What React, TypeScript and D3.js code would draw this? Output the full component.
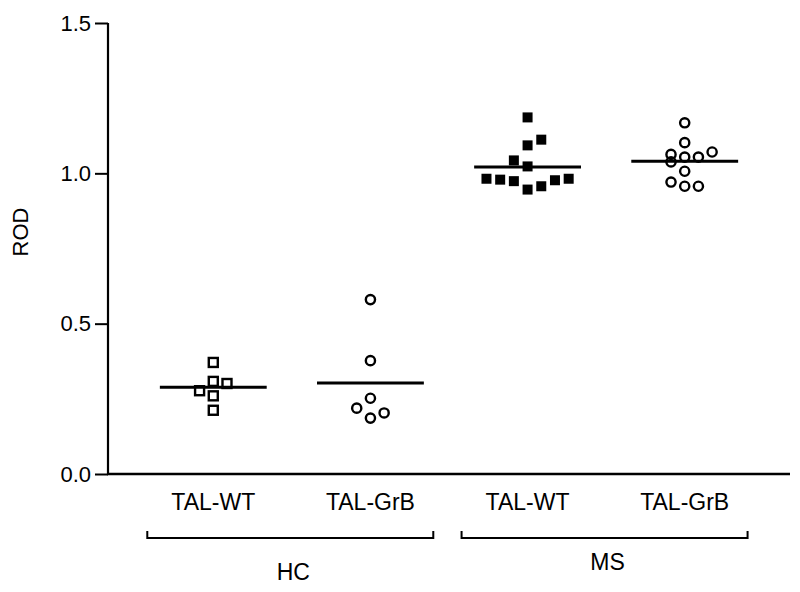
import React, { useEffect, useRef } from 'react';
import * as d3 from 'd3';

// categories along the x axis, grouped by cohort
const categories = ['HC TAL-WT', 'HC TAL-GrB', 'MS TAL-WT', 'MS TAL-GrB'];
const categoryLabels = ['TAL-WT', 'TAL-GrB', 'TAL-WT', 'TAL-GrB'];
const groups = ['HC', 'MS'];
const groupMembers = [[0, 1], [2, 3]];

// ROD values, with the dot-plot column each one sits in
const hcWtValues = [0.371, 0.308, 0.301, 0.277, 0.26, 0.212];
const hcWtColumns = [0, 0, 1, -1, 0, 0];
const hcGrbValues = [0.58, 0.377, 0.252, 0.219, 0.203, 0.186];
const hcGrbColumns = [0, 0, 0, -1, 1, 0];
const msWtValues = [1.186, 1.112, 1.093, 1.043, 1.023, 0.982, 0.979, 0.974, 0.946, 0.957, 0.977, 0.982];
const msWtColumns = [0, 1, 0, -1, 0, -3, -2, -1, 0, 1, 2, 3];
const msGrbValues = [1.168, 1.102, 1.071, 1.063, 1.054, 1.054, 1.038, 1.007, 0.971, 0.957, 0.957];
const msGrbColumns = [0, 0, 2, -1, 0, 1, -1, 0, -1, 0, 1];

const yTicks = [0, 0.5, 1.0, 1.5];

const series = [
    { values: hcWtValues, columns: hcWtColumns, shape: 'square', filled: false },
    { values: hcGrbValues, columns: hcGrbColumns, shape: 'circle', filled: false },
    { values: msWtValues, columns: msWtColumns, shape: 'square', filled: true },
    { values: msGrbValues, columns: msGrbColumns, shape: 'circle', filled: false },
];

const WIDTH = 800;
const HEIGHT = 592;
const FONT = '"Liberation Sans", Arial, Helvetica, sans-serif';

const App = () => {
    const svgRef = useRef<SVGSVGElement>(null);

    useEffect(() => {
        const svg = d3.select(svgRef.current);
        svg.selectAll('*').remove();

        const left = 108;
        const right = 790;
        const top = 23;
        const bottom = 474;

        const x = d3.scalePoint<number>()
            .domain(d3.range(categories.length))
            .range([left, right])
            .padding(0.67);
        const step = x.step();

        const y = d3.scaleLinear()
            .domain([0, 1.5])
            .range([bottom, top]);

        // horizontal spread of dots in the same row
        const col = d3.scaleLinear().domain([-1, 1]).range([-13.7, 13.7]);

        // y axis
        const yAxis = svg.append('g')
            .attr('transform', `translate(${left},0)`)
            .call(d3.axisLeft(y).tickValues(yTicks).tickFormat(d3.format('.1f')).tickSize(13).tickPadding(4));
        yAxis.select('.domain').attr('stroke', '#000').attr('stroke-width', 2.2).attr('d', `M0,${top}V${bottom}`);
        yAxis.selectAll('.tick line').attr('stroke', '#000').attr('stroke-width', 2);
        yAxis.selectAll('.tick text')
            .attr('font-family', FONT)
            .attr('font-size', 22)
            .attr('fill', '#000');

        // x axis line
        svg.append('line')
            .attr('x1', left - 1).attr('x2', right)
            .attr('y1', bottom).attr('y2', bottom)
            .attr('stroke', '#000').attr('stroke-width', 2.6);

        // y label
        svg.append('text')
            .attr('transform', `translate(28,${232}) rotate(-90)`)
            .attr('text-anchor', 'middle')
            .attr('font-family', FONT)
            .attr('font-size', 22)
            .text('ROD');

        // category labels
        svg.selectAll('text.cat')
            .data(categoryLabels)
            .enter().append('text')
            .attr('class', 'cat')
            .attr('x', (d, i) => x(i))
            .attr('y', 510)
            .attr('text-anchor', 'middle')
            .attr('font-family', FONT)
            .attr('font-size', 23)
            .text(d => d);

        // group brackets
        const groupDy = [10, 0];
        groups.forEach((g, gi) => {
            const m = groupMembers[gi];
            const x0 = x(m[0]) - 0.42 * step;
            const x1 = x(m[m.length - 1]) + 0.4 * step;
            svg.append('path')
                .attr('d', `M${x0},531V538H${x1}V531`)
                .attr('fill', 'none')
                .attr('stroke', '#000')
                .attr('stroke-width', 2);
            svg.append('text')
                .attr('x', (x0 + x1) / 2 + 3)
                .attr('y', 570 + groupDy[gi])
                .attr('text-anchor', 'middle')
                .attr('font-family', FONT)
                .attr('font-size', 23)
                .text(g);
        });

        // points and mean lines
        series.forEach((s, si) => {
            const cx = x(si);
            const g = svg.append('g');
            const pts = s.values.map((v, i) => ({ v, c: s.columns[i] }));
            if (s.shape === 'square') {
                const size = s.filled ? 10 : 9;
                g.selectAll('rect')
                    .data(pts)
                    .enter().append('rect')
                    .attr('x', d => cx + col(d.c) - size / 2)
                    .attr('y', d => y(d.v) - size / 2)
                    .attr('width', size)
                    .attr('height', size)
                    .attr('fill', s.filled ? '#000' : '#fff')
                    .attr('stroke', '#000')
                    .attr('stroke-width', s.filled ? 0 : 2.4);
            } else {
                g.selectAll('circle')
                    .data(pts)
                    .enter().append('circle')
                    .attr('cx', d => cx + col(d.c))
                    .attr('cy', d => y(d.v))
                    .attr('r', 4.6)
                    .attr('fill', 'none')
                    .attr('stroke', '#000')
                    .attr('stroke-width', 2.4);
            }
            const mean = d3.mean(s.values) as number;
            svg.append('line')
                .attr('x1', cx - 0.34 * step)
                .attr('x2', cx + 0.34 * step)
                .attr('y1', y(mean))
                .attr('y2', y(mean))
                .attr('stroke', '#000')
                .attr('stroke-width', 3);
        });
    }, []);

    return (
        <svg ref={svgRef} width={WIDTH} height={HEIGHT}
            style={{ position: 'absolute', left: 0, top: 0, background: '#fff' }}></svg>
    );
};

export default App;
